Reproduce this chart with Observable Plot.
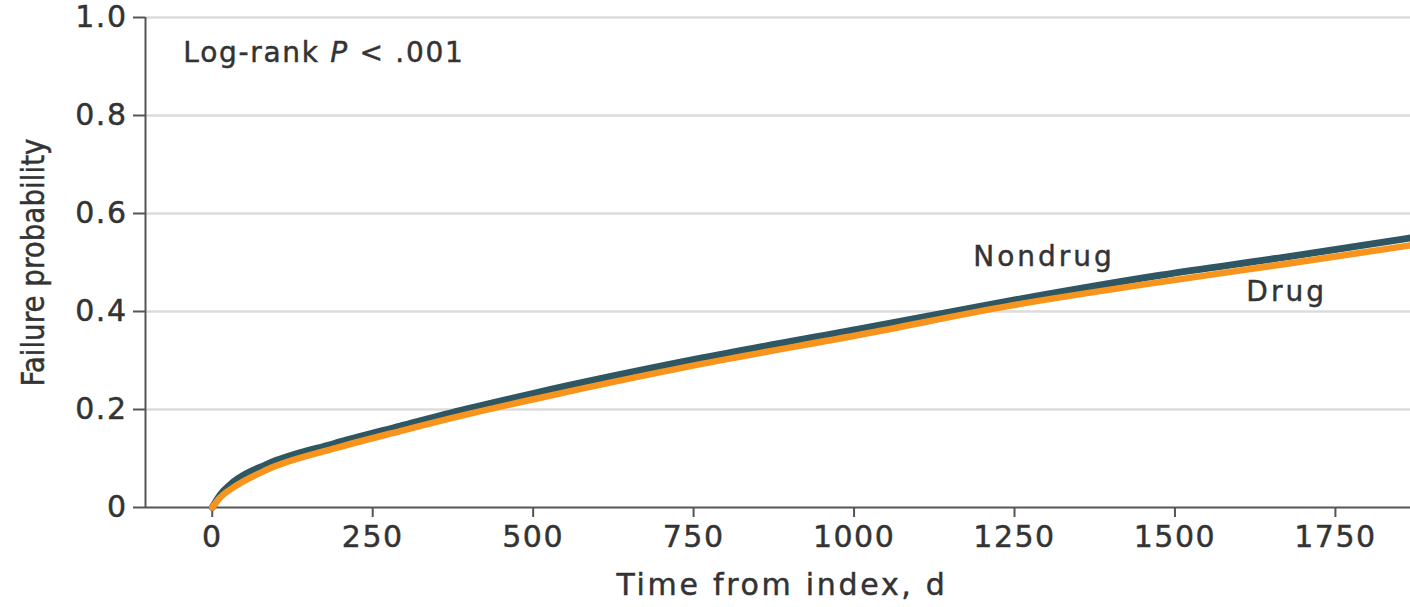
<!DOCTYPE html>
<html>
<head>
<meta charset="utf-8">
<script src="https://cdn.jsdelivr.net/npm/d3@7"></script>
<script src="https://cdn.jsdelivr.net/npm/@observablehq/plot@0.6"></script>
<style>
  html, body { margin: 0; padding: 0; background: #fff; }
  #chart svg { display: block; }
  #chart svg text { stroke: #333; stroke-width: 0.45px; }
</style>
</head>
<body>
<div id="chart"></div>
<script>
// ---- Data ----
const days = [0, 12, 33, 85, 189, 293, 397, 501, 755, 1015, 1244, 1477, 1672, 1867];
const nondrug = [0, 0.025, 0.052, 0.088, 0.130, 0.166, 0.201, 0.233, 0.303, 0.366, 0.422, 0.474, 0.511, 0.550];
const drug    = [0, 0.020, 0.041, 0.077, 0.120, 0.156, 0.190, 0.221, 0.291, 0.354, 0.412, 0.460, 0.497, 0.535];
const xTicks = [0, 250, 500, 750, 1000, 1250, 1500, 1750];
const yTicks = [0, 0.2, 0.4, 0.6, 0.8, 1.0];
const xDomain = [-104, 1867];
const seriesNames = ["Nondrug", "Drug"];
const colors = {Nondrug: "#2e5663", Drug: "#f7941d"};

const rows = [];
days.forEach((d, i) => {
  rows.push({series: "Nondrug", t: d, p: nondrug[i]});
  rows.push({series: "Drug", t: d, p: drug[i]});
});

const font = "'DejaVu Sans', Verdana, sans-serif";

const chart = Plot.plot({
  width: 1410,
  height: 607,
  marginLeft: 145,
  marginRight: 0,
  marginTop: 17,
  marginBottom: 100,
  style: {fontFamily: font, fontSize: "28px", color: "#333", background: "#fff"},
  x: {domain: xDomain},
  y: {domain: [0, 1]},
  marks: [
    Plot.gridY(yTicks.filter(d => d > 0), {stroke: "#dcdcdc", strokeOpacity: 1, strokeWidth: 2.5}),
    Plot.ruleY([0], {stroke: "#555", strokeWidth: 2}),
    Plot.ruleX([xDomain[0]], {stroke: "#555", strokeWidth: 2}),
    Plot.axisY({ticks: yTicks, tickFormat: d => d === 0 ? "0" : d.toFixed(1), tickSize: 12, tickPadding: 6, label: null, stroke: "#555", strokeWidth: 2, fill: "#333", fontSize: 30, className: "ticks"}),
    Plot.axisX({ticks: xTicks, tickFormat: d => String(d), tickSize: 10, tickPadding: 8, label: null, stroke: "#555", strokeWidth: 2, fill: "#333", fontSize: 30, className: "ticks"}),
    Plot.line(rows.filter(r => r.series === "Nondrug"), {x: "t", y: "p", stroke: colors.Nondrug, strokeWidth: 7, curve: "monotone-x", strokeLinecap: "round"}),
    Plot.line(rows.filter(r => r.series === "Drug"), {x: "t", y: "p", stroke: colors.Drug, strokeWidth: 6.5, curve: "monotone-x", strokeLinecap: "round"}),
    Plot.text([seriesNames[0]], {x: 1296, y: 0.512, text: d => d, fill: "#333", className: "series"}),
    Plot.text([seriesNames[1]], {x: 1674, y: 0.439, text: d => d, fill: "#333", className: "series"}),
    Plot.text(["Log-rank P < .001"], {x: -45, y: 0.927, text: d => d, textAnchor: "start", fill: "#333", className: "logrank"}),
    Plot.text(["Time from index, d"], {frameAnchor: "bottom", dy: 87, dx: 4, text: d => d, fill: "#333", fontSize: 30, className: "xlab"}),
    Plot.text(["Failure probability"], {frameAnchor: "left", dx: -112, rotate: -90, textAnchor: "middle", text: d => d, fill: "#333", fontSize: 32, className: "ylab"})
  ]
});

document.getElementById("chart").appendChild(chart);
const svg = d3.select(chart);

svg.selectAll(".ticks text").style("letter-spacing", "1.5px");
svg.selectAll(".series text").style("letter-spacing", "3px");
svg.selectAll(".xlab text").style("letter-spacing", "2.7px");

// italic P in the log-rank annotation
svg.selectAll(".logrank text").style("letter-spacing", "1.7px").each(function() {
  const t = d3.select(this);
  t.text(null);
  t.append("tspan").text("Log-rank ");
  t.append("tspan").attr("font-style", "italic").text("P");
  t.append("tspan").text(" < .001");
});
svg.selectAll(".ylab text")
  .style("font-family", "'Liberation Sans Narrow', 'DejaVu Sans Condensed', sans-serif")
  .attr("textLength", 248)
  .attr("lengthAdjust", "spacingAndGlyphs");
</script>
</body>
</html>
